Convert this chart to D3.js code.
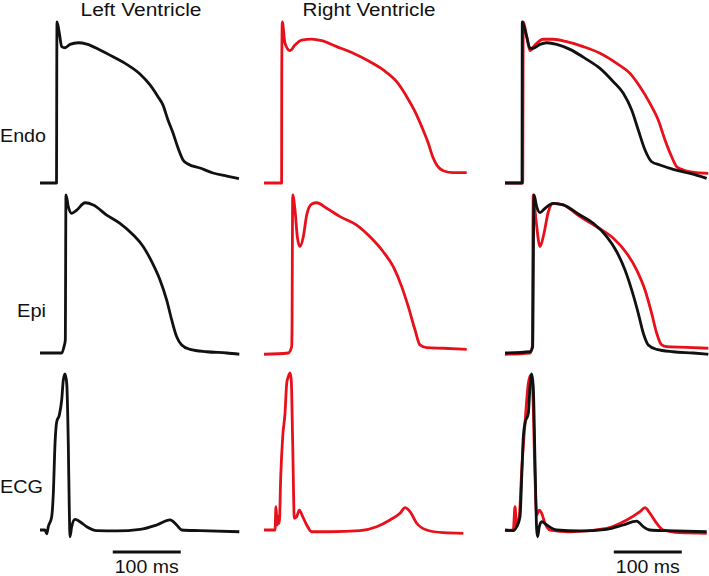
<!DOCTYPE html>
<html>
<head>
<meta charset="utf-8">
<script src="https://cdn.jsdelivr.net/npm/d3@7"></script>
<style>
  html, body { margin: 0; padding: 0; background: #fff; }
  svg { display: block; }
  text { font-family: Arial, "Liberation Sans", Helvetica, sans-serif; fill: #111; }
</style>
</head>
<body>
<svg id="chart" width="709" height="576"></svg>
<script>
// ---------------- DATA (time in ms, amplitude normalised: 0 = rest, 1 = peak) ----------------
const columnTitles = ["Left Ventricle", "Right Ventricle", ""];
const rowLabels = ["Endo", "Epi", "ECG"];
const scaleBarLabel = "100 ms";
const scaleBarMs = 100;
const scaleBarStartMs = [107, null, 160];   // per column (null = no bar)

// Left ventricle, endocardial action potential
const lvEndo = [[0,0],[22,0],[24.3,0],[24.7,0.764],[25,1.0],[28.4,0.932],[31.9,0.847],[36.8,0.84],[44.1,0.861],
  [56.3,0.871],[68.7,0.863],[88.2,0.826],[107.4,0.784],[127.5,0.737],[147,0.677],[161.8,0.609],[173.5,0.536],
  [180.9,0.484],[188.2,0.391],[195.6,0.311],[203,0.217],[210.3,0.143],[217.6,0.118],[235.3,0.093],[254.4,0.062],
  [275,0.043],[292.6,0.027]];
// Right ventricle, endocardial
const rvEndo = [[0,0],[24.6,0],[25.9,0],[26.1,0.66],[26.9,1.0],[30.9,0.868],[38.2,0.822],[45.6,0.857],[55.4,0.888],
  [70.1,0.894],[84.9,0.884],[106.9,0.847],[131.3,0.806],[155.9,0.753],[175.4,0.702],[195.1,0.629],[209.9,0.536],
  [222.1,0.443],[231.9,0.35],[241.6,0.247],[248.1,0.163],[254,0.112],[263.7,0.076],[278.4,0.064],[298.1,0.064]];
// Overlay column, endocardial
const ovEndoLV = [[0,0],[25,0],[25.4,1.0],[31.9,0.909],[36.8,0.837],[41.6,0.837],[51.5,0.861],[61.3,0.871],
  [76,0.861],[95.6,0.83],[120.1,0.768],[139.7,0.712],[159.3,0.629],[174,0.557],[186.3,0.453],[196,0.329],
  [205.9,0.205],[215.7,0.132],[227.9,0.112],[247.5,0.085],[272.1,0.06],[296.6,0.029]];
const ovEndoRV = [[0,0],[24.6,0],[26,0],[26.9,1.0],[31.9,0.909],[36.8,0.822],[44.1,0.857],[56.3,0.893],[71,0.893],
  [90.7,0.878],[115.1,0.847],[139.7,0.806],[164.3,0.743],[183.8,0.681],[198.5,0.598],[213.2,0.495],[225.4,0.391],
  [235.3,0.267],[245.1,0.163],[252.5,0.101],[262.2,0.081],[281.9,0.064],[298.9,0.06]];

// Epicardial action potentials
const lvEpi = [[0,0],[31.9,0],[35.3,0.04],[37.2,0.082],[38.2,1.0],[41.6,0.926],[46.6,0.884],[54,0.905],[66.2,0.951],
  [78.4,0.937],[98.1,0.873],[117.6,0.821],[137.2,0.747],[151.9,0.673],[164.3,0.578],[176.5,0.462],[186.3,0.335],
  [193.7,0.209],[201,0.103],[208.4,0.051],[220.6,0.023],[245.1,0.008],[274.6,0],[293.1,-0.008]];
const rvEpi = [[0,-0.008],[35.7,0],[40.7,0.04],[41.2,0.146],[42.2,1.0],[45.6,0.905],[49,0.736],[52.9,0.673],
  [57.8,0.736],[62.8,0.873],[70.1,0.943],[77.5,0.951],[92.2,0.916],[111.8,0.863],[136.3,0.81],[155.9,0.736],
  [175.4,0.641],[190.1,0.546],[202.5,0.42],[212.2,0.293],[222.1,0.146],[229.4,0.051],[239.3,0.034],[263.7,0.03],
  [298.1,0.023]];
const ovEpiLV = [[0,0],[36.8,0.008],[40.7,0.04],[42.6,1.0],[46.6,0.926],[51.5,0.888],[58.8,0.916],[71,0.947],
  [85.7,0.937],[110.3,0.873],[129.9,0.821],[149.6,0.736],[164.3,0.641],[176.5,0.525],[186.3,0.399],[196,0.251],
  [203.4,0.125],[210.7,0.051],[223.1,0.023],[247.5,0.008],[276.9,0],[299,-0.008]];
const ovEpiRV = [[0,-0.008],[36.8,0],[40.1,0.04],[41.6,1.0],[45.6,0.842],[51.5,0.673],[57.4,0.758],[63.7,0.894],
  [71,0.947],[85.7,0.937],[110.3,0.863],[134.9,0.799],[159.3,0.726],[179,0.631],[193.7,0.525],[205.9,0.399],
  [215.7,0.251],[223.1,0.125],[230.4,0.051],[237.8,0.04],[267.2,0.036],[299,0.03]];

// Pseudo-ECG traces
const lvEcg = [[0,0],[7.4,0],[9.9,-0.025],[12.2,0.021],[17.2,0.085],[19.6,0.234],[22.1,0.552],[24.6,0.69],
  [28.4,0.732],[31.9,0.828],[34.3,0.955],[36.8,0.994],[39.3,0.934],[41.6,0.552],[43.1,0.127],[44.1,-0.043],
  [46.6,0.021],[51.5,0.068],[58.8,0.053],[68.7,0.021],[83.4,-0.004],[112.8,-0.006],[147.1,0.004],[171.6,0.032],
  [191.2,0.064],[201,0.032],[208.4,0],[235.3,-0.004],[293.1,-0.011]];
const rvEcg = [[0,0],[16.2,0],[17.6,0.148],[19.6,0.032],[21,0.085],[22.5,0.043],[24.6,0.339],[27.5,0.594],
  [30.9,0.743],[33.4,0.934],[35.7,0.976],[38.2,1.0],[40.1,0.955],[42.2,0.552],[44.6,0.075],[48.1,0.085],
  [51.9,0.127],[56.9,0.085],[62.8,0.032],[70.1,-0.011],[97.1,-0.011],[141.2,-0.004],[165.7,0.021],[185.3,0.064],
  [200,0.106],[207.4,0.142],[214.7,0.117],[224.6,0.043],[239.3,0],[263.7,-0.017],[293.1,-0.021]];
const ovEcgLV = [[0,0],[12.2,-0.004],[17.2,0.021],[22.1,0.085],[24.6,0.339],[26.9,0.594],[29.4,0.68],[34.3,0.743],
  [36.8,0.913],[39.3,0.994],[41.6,0.913],[44.1,0.446],[46.6,0],[48.1,-0.043],[50.4,0.021],[54,0.053],[61.3,0.032],
  [76,0],[110.3,-0.006],[149.6,0.004],[174,0.032],[193.7,0.057],[203.4,0.021],[213.2,0],[237.8,-0.004],
  [296.6,-0.011]];
const ovEcgRV = [[0,-0.004],[12.2,0],[14.7,0.148],[17.2,0.021],[21,0.085],[24.6,0.382],[29.4,0.68],[34.3,0.934],
  [37.8,0.987],[40.7,0.892],[44.1,0.339],[46.6,0.096],[50.4,0.127],[54,0.106],[58.8,0.043],[66.2,0],
  [95.6,-0.011],[149.6,0.011],[179,0.064],[198.5,0.117],[205.9,0.142],[213.2,0.106],[223.1,0.043],[232.8,0],
  [257.4,-0.017],[296.6,-0.021]];

// which traces go in which panel [row][col]
const panels = [
  [[{d: lvEndo, s: "LV"}], [{d: rvEndo, s: "RV"}], [{d: ovEndoRV, s: "RV"}, {d: ovEndoLV, s: "LV"}]],
  [[{d: lvEpi, s: "LV"}],  [{d: rvEpi, s: "RV"}],  [{d: ovEpiRV, s: "RV"},  {d: ovEpiLV, s: "LV"}]],
  [[{d: lvEcg, s: "LV"}],  [{d: rvEcg, s: "RV"}],  [{d: ovEcgRV, s: "RV"},  {d: ovEcgLV, s: "LV"}]]
];

// ---------------- LAYOUT / STYLE ----------------
const colors = { LV: "#111111", RV: "#e8101a" };
const colLeft = [40, 264, 505];
const pxPerMs = 0.68;
const rowBase = [183, 353, 530];
const rowPeak = [22, 195, 373];

const svg = d3.select("#chart");

const xScales = colLeft.map(l => d3.scaleLinear().domain([0, 300]).range([l, l + 300 * pxPerMs]));
const yScales = rowBase.map((b, i) => d3.scaleLinear().domain([0, 1]).range([b, rowPeak[i]]));

panels.forEach((row, r) => {
  row.forEach((traces, c) => {
    const x = xScales[c], y = yScales[r];
    const line = d3.line().x(p => x(p[0])).y(p => y(p[1])).curve(d3.curveMonotoneX);
    traces.forEach(tr => {
      svg.append("path")
        .attr("d", line(tr.d))
        .attr("fill", "none")
        .attr("stroke", colors[tr.s])
        .attr("stroke-width", 2.8)
        .attr("stroke-linejoin", "round")
        .attr("stroke-linecap", "butt");
    });
  });
});

// column titles
const titleLayout = [{cx: 141, w: 121}, {cx: 369, w: 133}];
columnTitles.forEach((t, i) => {
  if (!t) return;
  svg.append("text")
    .attr("x", titleLayout[i].cx).attr("y", 16)
    .attr("text-anchor", "middle")
    .attr("font-size", 17.5)
    .attr("textLength", titleLayout[i].w)
    .attr("lengthAdjust", "spacingAndGlyphs")
    .text(t);
});

// row labels
const rowLabelLayout = [{x: 0, y: 142, w: 46}, {x: 17, y: 317, w: 29}, {x: 0, y: 493, w: 43}];
rowLabels.forEach((t, i) => {
  svg.append("text")
    .attr("x", rowLabelLayout[i].x).attr("y", rowLabelLayout[i].y)
    .attr("font-size", 18.5)
    .attr("textLength", rowLabelLayout[i].w)
    .attr("lengthAdjust", "spacingAndGlyphs")
    .text(t);
});

// scale bars
scaleBarStartMs.forEach((s, c) => {
  if (s === null) return;
  const x = xScales[c];
  const x0 = x(s), x1 = x(s + scaleBarMs);
  svg.append("line")
    .attr("x1", x0).attr("x2", x1).attr("y1", 552).attr("y2", 552)
    .attr("stroke", "#111").attr("stroke-width", 3);
  svg.append("text")
    .attr("x", (x0 + x1) / 2).attr("y", 573)
    .attr("text-anchor", "middle")
    .attr("font-size", 18.5)
    .attr("textLength", 64)
    .attr("lengthAdjust", "spacingAndGlyphs")
    .text(scaleBarLabel);
});
</script>
</body>
</html>
